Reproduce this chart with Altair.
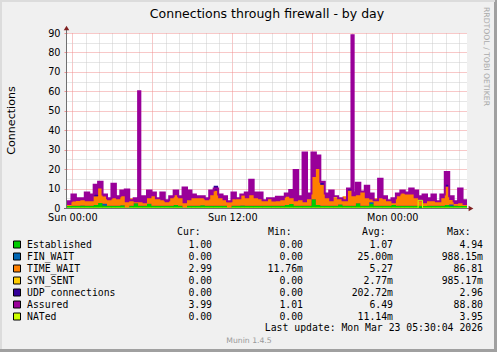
import altair as alt
import pandas as pd

# ------------------------------------------------------------------ data
series_names = ["Established", "FIN_WAIT", "TIME_WAIT", "SYN_SENT",
                "UDP connections", "Assured", "NATed"]
series_colors = ["#00CC00", "#0066B3", "#FF8000", "#FFCC00",
                 "#330099", "#990099", "#CCFF00"]

# time grid: samples every 20 minutes, hours relative to Sun 00:00
T_START = -0.4
T_STEP = 1.0 / 3.0

established = [
    1.0, 1.2, 1.2, 1.3, 1.2, 1.2, 1.5, 2.6, 1.3, 1.2,
    1.2, 1.2, 1.4, 0.2, 1.2, 2.5, 1.2, 1.2, 2.2, 1.2,
    1.2, 1.2, 1.2, 1.2, 1.5, 1.2, 0.3, 1.2, 1.2, 1.2,
    1.4, 1.2, 1.2, 1.2, 1.2, 1.2, 0.3, 1.2, 1.2, 1.3,
    1.2, 1.2, 1.2, 1.2, 1.2, 1.2, 1.2, 1.2, 1.2, 1.5,
    2.0, 1.2, 1.2, 1.2, 1.2, 4.5, 1.5, 1.2, 1.2, 1.2,
    1.2, 1.8, 1.2, 1.2, 1.2, 2.5, 1.2, 1.2, 2.0, 1.2,
    1.2, 1.2, 1.2, 1.5, 1.2, 1.2, 1.2, 1.2, 1.2, 1.2,
    1.0, 1.2, 1.2, 1.2, 1.2, 1.5, 1.2, 1.2, 1.0, 1.0,
]
time_wait = [
    0.5, 2.1, 2.4, 2.7, 2.3, 2.3, 4.5, 7.4, 3.7, 2.8,
    3.8, 3.3, 4.6, 2.8, 3.8, 0.5, 1.8, 1.3, 2.8, 4.8,
    3.8, 2.8, 1.8, 3.8, 5.0, 3.8, 2.2, 2.8, 3.8, 3.8,
    3.6, 2.8, 5.3, 7.8, 3.8, 2.8, 2.7, 3.3, 3.8, 5.2,
    3.8, 5.3, 3.8, 3.3, 2.8, 3.8, 2.1, 2.3, 2.8, 4.3,
    3.0, 2.3, 2.8, 1.8, 3.3, 11.5, 18.5, 10.8, 3.8, 2.3,
    3.8, 3.2, 4.8, 7.8, 4.8, 4.0, 7.2, 3.8, 1.5, 3.8,
    3.8, 3.3, 2.8, 1.0, 4.8, 6.3, 5.8, 5.8, 3.8, 2.3,
    1.5, 2.3, 2.3, 2.3, 3.8, 9.5, 2.3, 0.8, 1.5, 0.5,
]
assured = [
    3.5, 7.0, 5.0, 5.0, 8.0, 7.0, 12.0, 13.5, 7.0, 5.0,
    12.5, 6.0, 9.0, 9.5, 4.0, 5.0, 60.0, 6.0, 9.0, 8.0,
    5.0, 8.0, 4.0, 6.0, 9.0, 6.0, 10.5, 9.0, 7.0, 6.0,
    6.0, 5.0, 9.0, 10.0, 7.0, 6.0, 3.5, 8.0, 5.0, 7.0,
    8.0, 14.5, 8.0, 8.0, 4.0, 5.0, 5.0, 5.8, 5.8, 7.5,
    9.3, 19.5, 6.0, 28.5, 7.5, 28.5, 27.0, 13.5, 7.5, 9.0,
    6.0, 5.0, 4.0, 10.0, 88.8, 13.0, 8.5, 11.5, 7.5, 4.0,
    15.0, 6.0, 4.0, 5.0, 7.5, 9.0, 8.0, 10.0, 9.0, 6.0,
    7.0, 5.0, 7.0, 3.5, 7.0, 18.5, 6.0, 3.5, 10.0, 4.0,
]
# the two tall Assured spikes last only ~10 minutes: value for the
# second half of those 20-minute samples
assured_second_half = {16: 6.0, 64: 8.0}

# sparse series: sample index -> value (all other samples are 0)
fin_wait_nonzero = {8: 0.9, 68: 0.9, 86: 0.6}
syn_sent_nonzero = {60: 0.9}
udp_nonzero = {6: 0.8, 33: 2.5, 57: 1.0, 63: 1.0, 85: 1.0}
nated_nonzero = {79: 3.95}

# legend statistics
cur_vals = ["1.00", "0.00", "2.99", "0.00", "0.00", "3.99", "0.00"]
min_vals = ["0.00", "0.00", "11.76m", "0.00", "0.00", "1.01", "0.00"]
avg_vals = ["1.07", "25.00m", "5.27", "2.77m", "202.72m", "6.49", "11.14m"]
max_vals = ["4.94", "988.15m", "86.81", "985.17m", "2.96", "88.80", "3.95"]
header_labels = ["Cur:", "Min:", "Avg:", "Max:"]

x_tick_hours = [0, 12, 24]
x_tick_labels = ["Sun 00:00", "Sun 12:00", "Mon 00:00"]
title_text = "Connections through firewall - by day"
y_title = "Connections"
last_update = "Last update: Mon Mar 23 05:30:04 2026"
footer = "Munin 1.4.5"
watermark = "RRDTOOL / TOBI OETIKER"

# ------------------------------------------------------------------ layout
OX, OY = 67, 33          # plot origin on the page
W, H = 400, 175
SANS = "DejaVu Sans"
MONO = "DejaVu Sans Mono"
MAJOR = "#F09090"
MINOR = "#CCCCCC"


def rx(px):
    return px - OX


def ry(py):
    return py - OY


N = len(assured)


def expand(sparse):
    return [sparse.get(i, 0.0) for i in range(N)]


def times():
    return [T_START + i * T_STEP for i in range(N + 1)]


def long_df(name, vals, ordv, extra=None):
    t = times()
    v = list(vals) + [vals[-1]]
    if extra:
        for i, val in extra.items():
            t.append(T_START + (i + 0.5) * T_STEP)
            v.append(val)
    df = pd.DataFrame({"t": t, "v": v, "series": name, "ord": ordv})
    return df.sort_values("t").reset_index(drop=True)


stack_series = [
    ("Established", established),
    ("FIN_WAIT", expand(fin_wait_nonzero)),
    ("TIME_WAIT", time_wait),
    ("SYN_SENT", expand(syn_sent_nonzero)),
    ("UDP connections", expand(udp_nonzero)),
]
stack_df = pd.concat([long_df(n, v, k) for k, (n, v) in enumerate(stack_series)],
                     ignore_index=True)
assured_df = long_df("Assured", assured, 5, assured_second_half)
nated_df = long_df("NATed", expand(nated_nonzero), 6)

xscale = alt.Scale(domain=[T_START, T_START + N * T_STEP], nice=False, zero=False)
yscale = alt.Scale(domain=[0, 90], nice=False)

label_expr = " : ".join(
    f"datum.value == {h} ? '{l}'" for h, l in zip(x_tick_hours, x_tick_labels)
) + " : ''"

xaxis = alt.Axis(
    values=list(range(0, 30)), labelExpr=label_expr, title=None,
    grid=True, gridDash=[1, 1], gridWidth=1,
    gridColor={"condition": {"test": "datum.value % 6 == 0", "value": MAJOR}, "value": MINOR},
    domain=False, ticks=False, labelPadding=4.5, labelFlush=False,
    labelFont=SANS, labelFontSize=9.7, labelColor="#000000", labelOverlap=False,
)
yaxis = alt.Axis(
    values=list(range(0, 91, 5)), title=None,
    labelExpr="datum.value % 10 == 0 ? datum.label : ''",
    grid=True, gridDash=[1, 1], gridWidth=1,
    gridColor={"condition": {"test": "datum.value % 10 == 0", "value": MAJOR}, "value": MINOR},
    domain=False, ticks=True, tickSize=3,
    tickColor={"condition": {"test": "datum.value % 10 == 0", "value": MAJOR}, "value": "transparent"},
    labelPadding=4, labelFont=SANS, labelFontSize=9.7, labelColor="#000000",
    labelOverlap=False,
)

X = alt.X("t:Q", scale=xscale, axis=xaxis)

assured_area = alt.Chart(assured_df).mark_area(
    interpolate="step-after", color="#990099"
).encode(x=X, y=alt.Y("v:Q", scale=yscale, axis=yaxis, stack=None))

stack = alt.Chart(stack_df).mark_area(interpolate="step-after").encode(
    x=X,
    y=alt.Y("v:Q", scale=yscale, axis=yaxis, stack="zero"),
    color=alt.Color("series:N", scale=alt.Scale(domain=series_names[:5],
                                                range=series_colors[:5]), legend=None),
    order=alt.Order("ord:Q"),
)

assured_line = alt.Chart(assured_df).mark_line(
    interpolate="step-after", color="#990099", strokeWidth=2
).encode(x=X, y=alt.Y("v:Q", scale=yscale, axis=yaxis, stack=None))

nated_line = alt.Chart(nated_df).mark_line(
    interpolate="step-after", color="#CCFF00", strokeWidth=1
).encode(x=X, y=alt.Y("v:Q", scale=yscale, axis=yaxis, stack=None))

one = pd.DataFrame({"k": [0]})


def rule(x1, y1, x2, y2, color, width):
    return alt.Chart(one).mark_rule(color=color, strokeWidth=width).encode(
        x=alt.value(rx(x1)), x2=alt.value(rx(x2)),
        y=alt.value(ry(y1)), y2=alt.value(ry(y2)))


def text(t, x, y, **kw):
    return alt.Chart(one).mark_text(text=t, **kw).encode(
        x=alt.value(rx(x)), y=alt.value(ry(y)))


AXC = "#707070"
ARROW = "#802020"
decor = [
    rule(66.5, 208.5, 66.5, 29, AXC, 1),
    rule(64, 208.5, 470, 208.5, AXC, 1),
    alt.Chart(one).mark_point(shape="triangle-up", filled=True, size=30,
                              color=ARROW, opacity=1).encode(
        x=alt.value(rx(66.5)), y=alt.value(ry(28))),
    alt.Chart(one).mark_point(shape="triangle-right", filled=True, size=30,
                              color=ARROW, opacity=1).encode(
        x=alt.value(rx(471)), y=alt.value(ry(208.5))),
    # frame shading
    rule(495.5, 0, 495.5, 352, "#A0A0A0", 3),
    rule(0, 350.5, 497, 350.5, "#A0A0A0", 3),
    rule(1, 0, 1, 349, "#DCDCDC", 2),
    rule(0, 1, 495, 1, "#DCDCDC", 2),
]

texts = [
    text(title_text, OX + W / 2, 14, font=SANS, fontSize=12.5, align="center",
         baseline="middle", color="#000000"),
    text(y_title, 12, 120.5, font=SANS, fontSize=11.1, align="center",
         baseline="middle", angle=270, color="#000000"),
    text(watermark, 486, 56.5, font=SANS, fontSize=7.7, align="center",
         baseline="middle", angle=90, color="#AAAAAA"),
    text(last_update, 483, 328, font=MONO, fontSize=9.8, align="right",
         baseline="middle", color="#000000"),
    text(footer, 249, 341, font=SANS, fontSize=7.7, align="center",
         baseline="middle", color="#999999"),
]
for lbl, hx in zip(header_labels, [177, 268, 362, 447]):
    texts.append(text(lbl, hx, 232, font=MONO, fontSize=9.8, align="left",
                      baseline="middle", color="#000000"))


def slot(s):
    return s if s.endswith("m") else s + "\u00a0"


leg_df = pd.DataFrame({
    "row": list(range(len(series_names))),
    "name": series_names,
    "color": series_colors,
    "cur": [slot(s) for s in cur_vals],
    "min": [slot(s) for s in min_vals],
    "avg": [slot(s) for s in avg_vals],
    "max": [slot(s) for s in max_vals],
})
ROW0, DROW = 244.5, 12
leg_base = alt.Chart(leg_df).transform_calculate(
    ypx=f"{ry(ROW0)} + {DROW} * datum.row")
LY = alt.Y("ypx:Q", scale=None, axis=None)

legend_layers = [
    leg_base.mark_square(size=49, stroke="#000000", strokeWidth=1, opacity=1,
                         filled=True).encode(
        x=alt.value(rx(17)), y=LY, fill=alt.Fill("color:N", scale=None, legend=None)),
    leg_base.mark_text(font=MONO, fontSize=9.8, align="left", baseline="middle",
                       color="#000000").encode(x=alt.value(rx(27)), y=LY, text="name:N"),
]
for col, right in [("cur", 212), ("min", 303), ("avg", 393), ("max", 483)]:
    legend_layers.append(
        leg_base.mark_text(font=MONO, fontSize=9.8, align="right", baseline="middle",
                           color="#000000").encode(x=alt.value(rx(right)), y=LY,
                                                   text=f"{col}:N"))

chart = alt.layer(
    assured_area, stack, assured_line, nated_line, *decor, *texts, *legend_layers
).properties(
    width=W, height=H,
    padding={"left": OX, "top": OY, "right": 497 - OX - W, "bottom": 352 - OY - H},
    autosize=alt.AutoSizeParams(type="none"),
    background="#F0F0F0",
).configure_view(fill="white", stroke=None)

chart.save("out.html", embed_options={"renderer": "svg", "actions": False})
